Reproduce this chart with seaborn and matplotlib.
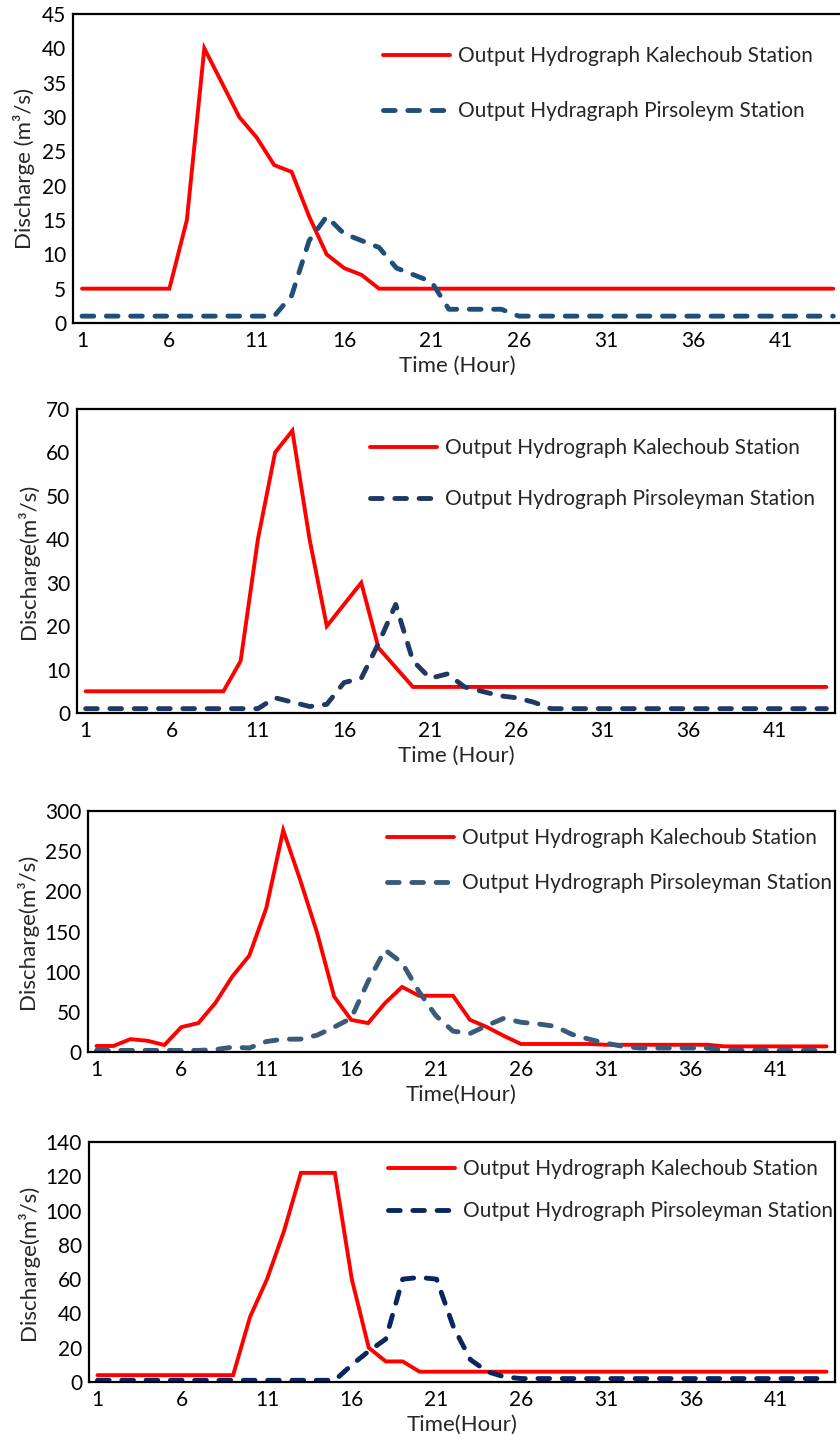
import matplotlib
matplotlib.use("Agg")
import matplotlib.pyplot as plt
import seaborn as sns
import pandas as pd

hours = list(range(1, 45))

p1_kalechoub = [5] * 6 + [15, 40, 35, 30, 27, 23, 22, 15.5, 10, 8, 7, 5] + [5] * 26
p1_pirsoleym = [1] * 12 + [4, 12, 15.5, 13, 12, 11, 8, 7, 6, 2, 2, 2, 2] + [1] * 19

p2_kalechoub = [5] * 9 + [12, 40, 60, 65, 40, 20, 25, 30, 15, 10.5] + [6] * 25
p2_pirsoleyman = [1] * 11 + [3.5, 2.5, 1.5, 2, 7, 8, 16, 25, 12, 8, 9, 6, 5, 4, 3.5, 2.5] + [1] * 17

p3_kalechoub = [7.5, 7.5, 16, 14, 8.7, 31, 36, 61, 94, 120, 179, 276, 214, 148, 69, 40,
                36, 61, 81, 70, 70, 70, 40, 31, 20, 10] + [10] * 4 + [9] * 7 + [7] * 7
p3_pirsoleyman = [2] * 7 + [3, 6, 5, 13, 16, 16, 21, 31, 42, 88, 127, 111, 75, 45, 26, 23,
                            33, 42, 37, 35, 32, 22, 16, 11, 7] + [5] * 5 + [2] * 7

p4_kalechoub = [4] * 9 + [38, 60, 88, 122, 122, 122, 60, 20, 12, 12] + [6] * 25
p4_pirsoleyman = [1] * 15 + [10, 18, 25, 60, 61, 60, 32, 13, 6, 3] + [2] * 19

xtick_labels = [1, 6, 11, 16, 21, 26, 31, 36, 41]

panels = [
    dict(red=p1_kalechoub, blue=p1_pirsoleym,
         red_label="Output Hydrograph Kalechoub Station",
         blue_label="Output Hydragraph Pirsoleym Station",
         blue_color="#1F4E79", ymax=45, ystep=5,
         ylabel="Discharge (m³/s)", xlabel="Time (Hour)",
         box=(73.3, 842, 14, 323), leg=(383, 57, 110)),
    dict(red=p2_kalechoub, blue=p2_pirsoleyman,
         red_label="Output Hydrograph Kalechoub Station",
         blue_label="Output Hydrograph Pirsoleyman Station",
         blue_color="#1F3864", ymax=70, ystep=10,
         ylabel="Discharge(m³/s)", xlabel="Time (Hour)",
         box=(77, 835, 409, 713), leg=(370, 449, 498)),
    dict(red=p3_kalechoub, blue=p3_pirsoleyman,
         red_label="Output Hydrograph Kalechoub Station",
         blue_label="Output Hydrograph Pirsoleyman Station",
         blue_color="#3A5A7C", ymax=300, ystep=50,
         ylabel="Discharge(m³/s)", xlabel="Time(Hour)",
         box=(88, 835, 811, 1052), leg=(387, 839, 882)),
    dict(red=p4_kalechoub, blue=p4_pirsoleyman,
         red_label="Output Hydrograph Kalechoub Station",
         blue_label="Output Hydrograph Pirsoleyman Station",
         blue_color="#0B2560", ymax=140, ystep=20,
         ylabel="Discharge(m³/s)", xlabel="Time(Hour)",
         box=(89, 835, 1142, 1382), leg=(388, 1170, 1210)),
]

sns.set_style("white")
plt.rcParams["font.family"] = ["Lato", "DejaVu Sans"]

W, H = 840, 1445
DPI = 100
FS = 15
fig = plt.figure(figsize=(W / DPI, H / DPI), dpi=DPI)

for p in panels:
    l, r, t, b = p["box"]
    ax = fig.add_axes([l / W, 1 - b / H, (r - l) / W, (b - t) / H])
    df = pd.DataFrame({"Hour": hours, "Kalechoub": p["red"], "Pirsoleyman": p["blue"]})
    sns.lineplot(data=df, x="Hour", y="Kalechoub", ax=ax, color="#FF0000",
                 linewidth=2.8, label=p["red_label"])
    sns.lineplot(data=df, x="Hour", y="Pirsoleyman", ax=ax, color=p["blue_color"],
                 linewidth=3.5, label=p["blue_label"])
    lines = ax.get_lines()
    lines[0].set_solid_joinstyle("miter")
    lines[1].set_dashes([2.4, 2.6])
    lines[1].set_dash_capstyle("round")
    ax.set_xlim(0.5, 44.5)
    ax.set_ylim(0, p["ymax"])
    ax.set_xticks(xtick_labels)
    ax.set_xticklabels([str(v) for v in xtick_labels])
    ax.set_yticks(list(range(0, p["ymax"] + 1, p["ystep"])))
    ax.tick_params(axis="both", length=0, labelsize=FS, colors="black")
    ax.tick_params(axis="x", pad=6)
    ax.tick_params(axis="y", pad=5)
    for s in ax.spines.values():
        s.set_visible(True)
        s.set_color("black")
        s.set_linewidth(1.6)
    ax.set_xlabel(p["xlabel"], fontsize=FS + 1, labelpad=3)
    ax.set_ylabel(p["ylabel"], fontsize=FS + 1, labelpad=5)
    ax.grid(False)
    lx, y1, y2 = p["leg"]
    fs_px = FS * DPI / 72
    spacing = (y2 - y1 - fs_px * 0.85) / fs_px
    ax.legend(loc="center left",
              bbox_to_anchor=((lx - l) / (r - l), 1 - ((y1 + y2) / 2 - t) / (b - t)),
              frameon=False, fontsize=FS, handlelength=3.2, handletextpad=0.4,
              labelspacing=spacing, borderpad=0, borderaxespad=0)

fig.savefig("out.png", dpi=DPI, facecolor="white")
